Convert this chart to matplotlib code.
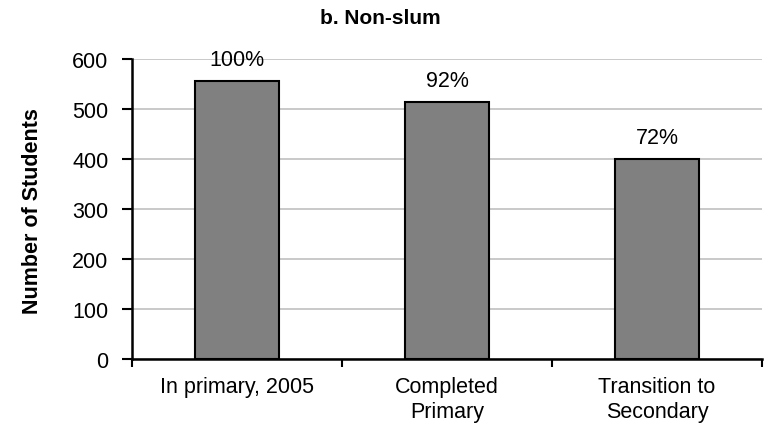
import matplotlib
matplotlib.use('Agg')
import matplotlib.pyplot as plt
import numpy as np

categories = ['In primary, 2005', 'Completed\nPrimary', 'Transition to\nSecondary']
students = [555, 513, 400]
pct_labels = ['100%', '92%', '72%']

plt.rcParams['font.family'] = ['Liberation Sans', 'DejaVu Sans']

fig = plt.figure(figsize=(7.65, 4.31), dpi=100)
ax = fig.add_axes([0.1725, 0.1647, 0.8235, 0.6961])

x = np.arange(len(categories))
bars = ax.bar(x, students, width=0.4, color='#808080', edgecolor='black', linewidth=1.5, zorder=3)

for xi, v, lab in zip(x, students, pct_labels):
    ax.annotate(lab, (xi, v), xytext=(0, 15.5), textcoords='offset points',
                ha='center', va='center', fontsize=15.5, zorder=4)

ax.set_xlim(-0.5, len(categories) - 0.5)
ax.set_ylim(0, 600)
ax.set_yticks(range(0, 601, 100))
ax.yaxis.grid(True, color='#c0c0c0', linewidth=1.2, zorder=0)
ax.set_axisbelow(True)

# category names sit between boundary ticks
ax.set_xticks(np.arange(-0.5, len(categories), 1.0))
ax.set_xticklabels([])
ax.set_xticks(x, minor=True)
ax.set_xticklabels(categories, minor=True, fontsize=15.5, linespacing=1.3)
ax.tick_params(axis='x', which='minor', length=0, pad=12)
ax.tick_params(axis='x', which='major', length=6, width=1.5, direction='out')
ax.tick_params(axis='y', length=7, width=1.5, labelsize=15.5, pad=10)

for s in ['top', 'right']:
    ax.spines[s].set_visible(False)
for s in ['left', 'bottom']:
    ax.spines[s].set_linewidth(1.8)

ax.set_ylabel('Number of Students', fontsize=15.5, fontweight='bold')
ax.yaxis.set_label_coords(-0.141, 0.497)
fig.text(380 / 765, 1 - 18 / 431, 'b. Non-slum', ha='center', va='center',
         fontsize=15, fontweight='bold')

fig.savefig('out.png', dpi=100)
